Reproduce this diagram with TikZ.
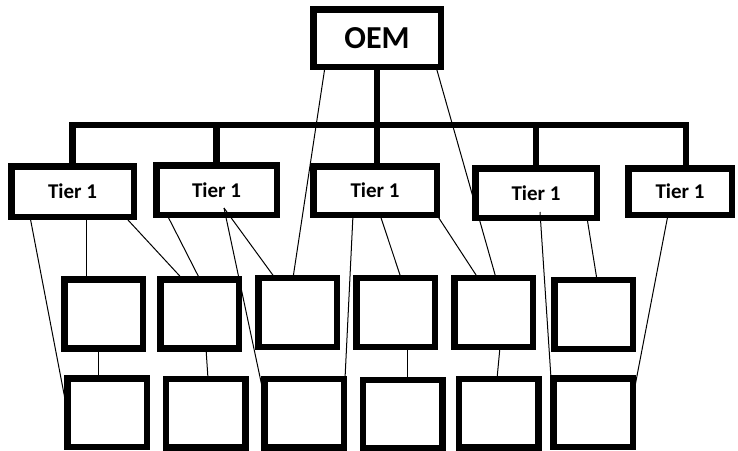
\documentclass[tikz,border=0pt]{standalone}
\usepackage{fontspec}
\setmainfont{Carlito}
\usetikzlibrary{calc}
\begin{document}
\begin{tikzpicture}[x=1pt,y=-1pt,
  box/.style={draw, line width=6.5pt, inner sep=0pt, outer sep=0pt, font=\bfseries\fontsize{21}{21}\selectfont},
  tierbox/.style={box, minimum width=#1, minimum height=49.5pt},
  midbox/.style={box, minimum width=78.5pt, minimum height=69pt},
  lowbox/.style={box, minimum width=79.5pt, minimum height=68.5pt},
  bus/.style={line width=6.8pt},
  link/.style={line width=1pt}]
\useasboundingbox (0,0) rectangle (738,450);
% top
\node[box, minimum width=127.5pt, minimum height=57.5pt, font=\bfseries\fontsize{32}{32}\selectfont] (OEM) at (377,38) {OEM};
% tier 1
\node[tierbox=122.5pt, minimum height=50.5pt] (T1) at (72.5,191.5) {Tier 1};
\node[tierbox=120.5pt] (T2) at (216.5,190) {Tier 1};
\node[tierbox=123.5pt, minimum height=48.5pt] (T3) at (375,190.5) {Tier 1};
\node[tierbox=121.5pt] (T4) at (536,193) {Tier 1};
\node[tierbox=103.5pt, minimum height=46.5pt] (T5) at (680,191.5) {Tier 1};
% middle row
\node[midbox] (A) at (103.5,314) {};
\node[midbox] (B) at (199.5,314) {};
\node[midbox] (C) at (297.5,312.5) {};
\node[midbox] (D) at (395.5,312.5) {};
\node[midbox] (E) at (493.5,312.5) {};
\node[midbox] (F) at (593.5,314.5) {};
% bottom row
\node[lowbox] (a) at (107,412.5) {};
\node[lowbox] (b) at (205.5,413) {};
\node[lowbox] (c) at (304,413) {};
\node[lowbox] (d) at (402.5,414) {};
\node[lowbox] (e) at (498.5,413) {};
\node[lowbox] (f) at (593,412.5) {};
% bus
\coordinate (barL) at (72.5,125);
\coordinate (barR) at (686,125);
\draw[bus] (T1.north) -- (barL) -- (barR) -- (barR |- T5.north);
\draw[bus] (T2.north) -- (T2.north |- barL);
\draw[bus] (T4.north) -- (T4.north |- barL);
\draw[bus] (OEM.south) -- (OEM.south |- T3.north);
% thin links
\draw[link] ($(OEM.south)+(-52,0)$) -- ($(C.north)+(-4.5,0)$);
\draw[link] ($(OEM.south)+(59,0)$) -- ($(E.north)+(2.5,0)$);
\draw[link] ($(T1.south)+(-42.5,0)$) -- ($(a.west)+(-1.5,-9.5)$);
\draw[link] ($(T1.south)+(13.5,0)$) -- ($(A.north)+(-17.5,0)$);
\draw[link] ($(T1.south)+(52.5,0)$) -- ($(B.north)+(-16.5,0)$);
\draw[link] ($(T2.south)+(-49.5,0)$) -- ($(B.north)+(0.5,0)$);
\draw[link] ($(T2.center)+(7.5,18)$) -- ($(c.west)+(-1.5,-23)$);
\draw[link] ($(T2.center)+(7.5,18)$) -- ($(C.north)+(-22.5,0)$);
\draw[link] ($(T3.south)+(-22,0)$) -- ($(c.north)+(41,0)$);
\draw[link] ($(T3.south)+(5,0)$) -- ($(D.north)+(5.5,0)$);
\draw[link] (T3.south east) -- ($(E.north)+(-15.5,0)$);
\draw[link] ($(T4.center)+(4,19)$) -- ($(f.north)+(-42,0)$);
\draw[link] ($(T4.south)+(51,0)$) -- ($(F.north)+(3.5,0)$);
\draw[link] ($(T5.south)+(-12,0)$) -- ($(f.east)+(1.5,-22.5)$);
\draw[link] ($(A.south)+(-5.5,0)$) -- ($(a.north)+(-9,0)$);
\draw[link] ($(B.south)+(6.5,0)$) -- ($(b.north)+(2.5,0)$);
\draw[link] ($(D.south)+(11.5,0)$) -- ($(d.north)+(4.5,0)$);
\draw[link] ($(E.south)+(6.5,0)$) -- ($(e.north)+(-1.5,0)$);
\end{tikzpicture}
\end{document}
